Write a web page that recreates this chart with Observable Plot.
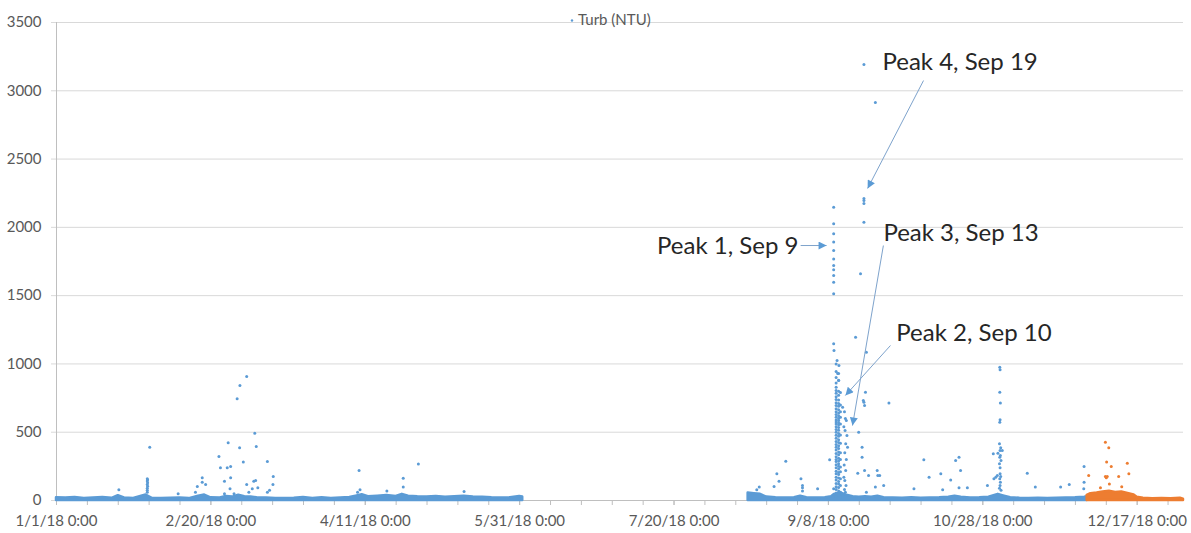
<!DOCTYPE html>
<html>
<head>
<meta charset="utf-8">
<script src="https://cdn.jsdelivr.net/npm/d3@7"></script>
<script src="https://cdn.jsdelivr.net/npm/@observablehq/plot@0.6"></script>
<style>
  html, body { margin: 0; padding: 0; background: #ffffff; }
  #chart svg { display: block; }
</style>
</head>
<body>
<div id="chart"></div>
<script>
// ---------- DATA (day offset from 1/1/2018, NTU) ----------
const seriesName = "Turb (NTU)";
const xTickLabels = ["1/1/18 0:00", "2/20/18 0:00", "4/11/18 0:00", "5/31/18 0:00",
                     "7/20/18 0:00", "9/8/18 0:00", "10/28/18 0:00", "12/17/18 0:00"];
const yTicks = [0, 500, 1000, 1500, 2000, 2500, 3000, 3500];

// dense low-turbidity band: upper edge of the cloud of points
const bandBlueWinterSpring = [[0,20],[3,18],[6,22],[9,15],[12,18],[15,22],[18,16],[20,35],[22,18],[25,15],[27,28],[29,40],[31,16],[34,14],[37,16],[40,18],[43,14],[46,32],[48,40],[50,20],[53,18],[55,30],[57,25],[59,38],[61,28],[63,25],[65,20],[68,18],[71,15],[74,14],[77,17],[80,22],[83,15],[86,20],[89,15],[92,18],[95,22],[97,32],[99,42],[101,28],[104,32],[107,36],[110,30],[112,45],[114,32],[117,28],[120,26],[123,30],[126,24],[129,28],[132,32],[135,26],[138,24],[141,20],[144,18],[147,20],[150,30],[151,25]];
const bandBlueSummerFall = [[224,55],[226,50],[228,45],[230,25],[233,20],[236,18],[239,20],[241,32],[243,20],[246,18],[249,20],[251,28],[252,45],[254,55],[256,38],[258,28],[260,24],[262,28],[264,24],[266,32],[268,20],[271,18],[274,16],[277,20],[280,16],[283,18],[286,20],[289,24],[291,32],[293,24],[296,18],[299,20],[302,24],[305,45],[307,32],[309,20],[312,16],[315,14],[318,16],[321,14],[324,16],[327,18],[330,20],[333,24],[333.8,28]];
const bandOrange = [[333.8,38],[335,50],[337,55],[339,62],[341,68],[343,58],[345,62],[347,52],[349,40],[350,24],[352,16],[355,12],[358,14],[361,12],[364,16],[365,10]];

// scattered points above the band
const blueWinter = [[20.2,78],[29.4,60],[29.4,75],[29.4,90],[29.5,105],[29.4,118],[29.5,130],[29.4,142],[29.5,152],[29.4,160],[30.2,390],[39.4,49],[45.0,61],[45.6,103],[47.2,166],[47.2,134],[48.3,117],[52.6,322],[53.1,239],[55.6,422],[55.3,239],[56.4,249],[54.4,141],[54.4,49],[56.4,166],[56.2,86],[57.5,49],[58.5,745],[59.4,842],[61.6,908],[59.3,386],[60.5,281],[64.2,493],[64.7,395],[61.6,117],[63.9,141],[64.5,146],[63.4,86],[65.2,93],[62.3,61],[68.3,286],[70.2,176],[70.1,117],[68.3,61],[69.0,75]];
const blueSpring = [[98,220],[98.3,78],[97.5,60],[112.3,163],[112.3,98],[117.2,268],[107,70],[132,65]];
const blueAugust = [[226.8,78],[227.6,98],[232.4,103],[233.3,195],[234,141],[236.2,288],[241.1,159],[241.6,93],[241.6,70],[241.6,110],[246.5,86],[250.4,298],[251.7,86]];
const bluePeak1 = [[251.7,2148],[251.7,2026],[251.7,1953],[251.7,1892],[251.7,1830],[251.7,1769],[251.7,1721],[251.7,1689],[251.7,1647],[251.7,1598],[251.7,1513],[251.7,1147],[251.8,1098],[253.4,988],[253.0,930],[253.3,879],[252.8,1025]];
const bluePeakColumnA = [30,55,80,100,125,150,170,195,215,240,262,285,300,320,345,370,390,410,432,455,478,500,520,540,560,575,590,610,630,650,672,695,715,740,760,785,805,830,860,900,945,1000];
const bluePeakColumnB = [40,70,95,120,140,165,190,205,230,250,270,290,310,335,355,380,400,425,445,470,490,515,535,555,570,585,600,620,640,665,690,710,735,770,800,880,930];
const bluePeakColumnC = [25,60,110,160,210,245,300,350,420,480,560,610,650,700,790];
const bluePeak2and3 = [[254.6,683],[255.2,650],[255.5,600],[255.8,586],[255.0,540],[255.4,512],[256.0,476],[255.6,415],[256.2,390],[255.3,350],[255.8,300],[255.1,260],[255.6,220],[255.0,171],[255.3,146],[255.7,110],[255.2,80],[255.5,60]];
const bluePeak4 = [[261.5,3192],[265.2,2914],[261.5,2211],[261.5,2197],[261.5,2175],[261.5,2038],[260.4,1660],[258.8,1196],[262.3,1086],[262.0,793],[261.3,732],[261.5,720],[261.7,696],[269.6,713],[259.8,500],[260.9,390],[260.9,317],[259.5,200],[261.7,220],[262.3,61],[265.8,220],[266.0,183],[266.6,183],[263.0,183],[267.9,110],[265.2,98]];
const blueAutumn = [[280.9,298],[282.6,171],[286.4,195],[287,78],[289.6,151],[291.2,293],[292.3,317],[292.8,220],[292.3,93],[295,93],[277.7,86],[301.5,110],[303.6,159],[304.2,171],[304.7,183],[305.5,976],[305.6,957],[305.5,793],[305.7,713],[305.6,591],[305.5,573],[305.4,415],[305.8,386],[305.6,366],[305.7,329],[305.5,317],[305.9,293],[305.4,269],[305.6,195],[305.8,176],[305.5,159],[305.7,134],[305.6,110],[304.9,346],[306.3,366],[303.4,342],[305.6,240],[305.4,90],[305.9,75],[314.4,200],[317,98],[325.2,98],[328,117],[332.8,249],[332.8,134],[332.7,86]];
const orangeDecember = [[339.7,427],[340.8,386],[340.1,281],[341.6,249],[346.8,273],[334.3,183],[339.7,176],[340.0,166],[340.3,176],[344,176],[347.3,195],[338.1,93],[341,120],[345,100]];

// annotations
const annotationText = ["Peak 1, Sep 9", "Peak 4, Sep 19", "Peak 3, Sep 13", "Peak 2, Sep 10"];
const annotationAnchor = ["end", "start", "start", "start"];
const annotationDay = [240.3, 267.5, 267.8, 272.0];
const annotationValue = [1860, 3207, 1955, 1223];
const arrowFromDay = [241.0, 280.8, 267.8, 270.1];
const arrowFromValue = [1867, 3075, 1867, 1135];
const arrowToDay = [249.4, 262.7, 257.8, 255.5];
const arrowToValue = [1867, 2285, 549, 769];

// ---------- BUILD ----------
const start = Date.UTC(2018, 0, 1);
const day = (d) => new Date(start + d * 864e5);
const blue = "#5b9bd5", orange = "#ed7d31";
const parseTick = d3.utcParse("%m/%d/%y %H:%M");
const xTickDates = xTickLabels.map(parseTick);
const labelOf = new Map(xTickDates.map((d, i) => [+d, xTickLabels[i]]));
const minorDates = d3.utcDay.range(day(0), day(366), 10);

const toPts = (arr) => arr.map(([d, v]) => ({date: day(d), v}));
const colPts = (d, vals) => vals.map((v) => ({date: day(d), v}));
const blueDots = [
  ...toPts(blueWinter), ...toPts(blueSpring), ...toPts(blueAugust), ...toPts(bluePeak1),
  ...colPts(252.5, bluePeakColumnA), ...colPts(253.3, bluePeakColumnB), ...colPts(253.9, bluePeakColumnC),
  ...toPts(bluePeak2and3), ...toPts(bluePeak4), ...toPts(blueAutumn)
];
const orangeDots = toPts(orangeDecember);
const annots = annotationText.map((t, i) => ({t, date: day(annotationDay[i]), v: annotationValue[i], anchor: annotationAnchor[i]}));
const arrows = annotationText.map((t, i) => ({x1: day(arrowFromDay[i]), y1: arrowFromValue[i], x2: day(arrowToDay[i]), y2: arrowToValue[i]}));

const bandMark = (arr, color) => Plot.areaY(toPts(arr), {x: "date", y1: 0, y2: "v", fill: color, stroke: color, strokeWidth: 2.5, strokeLinejoin: "round"});
const annotMark = (anchor) => Plot.text(annots.filter((a) => a.anchor === anchor), {x: "date", y: "v", text: "t", textAnchor: anchor, fontSize: 24, fill: "#262626", lineAnchor: "middle"});

const chart = Plot.plot({
  width: 1191,
  height: 533,
  marginLeft: 56,
  marginRight: 8,
  marginTop: 22,
  marginBottom: 33,
  style: {fontFamily: "Lato, 'Open Sans', sans-serif", background: "#ffffff", color: "#595959"},
  x: {type: "utc", domain: [day(0), day(365)]},
  y: {domain: [0, 3500]},
  marks: [
    Plot.gridY(yTicks, {stroke: "#d9d9d9", strokeOpacity: 1}),
    Plot.axisY(yTicks, {tickSize: 5, tickPadding: 10, stroke: "#d9d9d9", fill: "#595959", fontSize: 15, tickFormat: (d) => String(d)}),
    Plot.axisX(minorDates, {tickSize: 5, stroke: "#bfbfbf", tickFormat: () => ""}),
    Plot.axisX(xTickDates, {tickSize: 5, tickPadding: 10, stroke: "#bfbfbf", fill: "#595959", fontSize: 15, tickFormat: (d) => labelOf.get(+d)}),
    Plot.ruleX([day(0)], {stroke: "#bfbfbf"}),
    Plot.ruleY([0], {stroke: "#bfbfbf"}),
    bandMark(bandBlueWinterSpring, blue),
    bandMark(bandBlueSummerFall, blue),
    bandMark(bandOrange, orange),
    Plot.dot(blueDots, {x: "date", y: "v", r: 1.5, fill: blue, stroke: null}),
    Plot.dot(orangeDots, {x: "date", y: "v", r: 1.5, fill: orange, stroke: null}),
    Plot.link(arrows, {x1: "x1", y1: "y1", x2: "x2", y2: "y2", stroke: "#7ea3cc", strokeWidth: 1}),
    annotMark("end"),
    annotMark("start"),
    // legend
    Plot.dot([seriesName], {frameAnchor: "top", dx: -48, dy: -2, r: 1.2, fill: blue, stroke: null}),
    Plot.text([seriesName], {frameAnchor: "top", dx: -42, dy: -2, text: (d) => d, textAnchor: "start", fontSize: 15, fill: "#595959", lineAnchor: "middle"})
  ]
});

// filled arrowheads for the annotation links
const ns = "http://www.w3.org/2000/svg";
const defs = document.createElementNS(ns, "defs");
const marker = document.createElementNS(ns, "marker");
marker.setAttribute("id", "peakHead");
marker.setAttribute("viewBox", "0 0 10 10");
marker.setAttribute("refX", "10");
marker.setAttribute("refY", "5");
marker.setAttribute("markerWidth", "10");
marker.setAttribute("markerHeight", "8");
marker.setAttribute("markerUnits", "userSpaceOnUse");
marker.setAttribute("orient", "auto");
const head = document.createElementNS(ns, "path");
head.setAttribute("d", "M0,0L10,5L0,10Z");
head.setAttribute("fill", blue);
marker.appendChild(head);
defs.appendChild(marker);
chart.insertBefore(defs, chart.firstChild);
chart.querySelectorAll('g[aria-label="link"] path, g[aria-label="link"] line').forEach((p) => p.setAttribute("marker-end", "url(#peakHead)"));

document.getElementById("chart").appendChild(chart);
</script>
</body>
</html>
